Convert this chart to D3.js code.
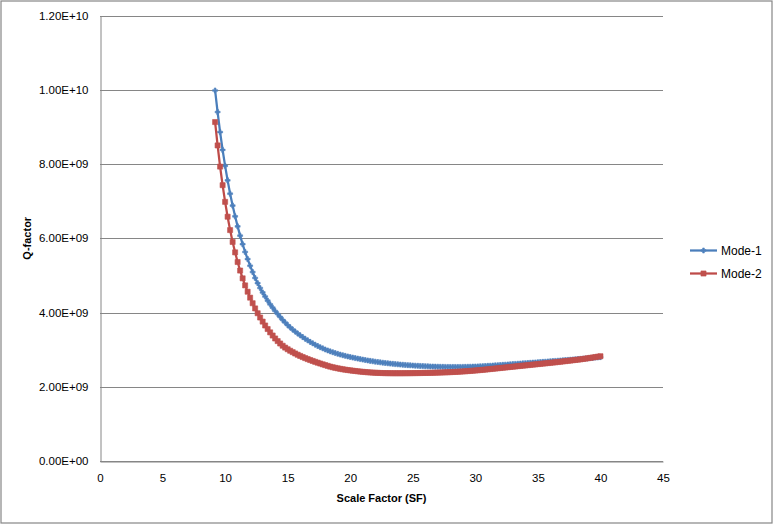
<!DOCTYPE html>
<html><head><meta charset="utf-8">
<script src="https://cdn.jsdelivr.net/npm/d3@7"></script>
<style>
body{margin:0;background:#fff}
svg{display:block}
text{font-family:"Liberation Sans",Arial,sans-serif;fill:#000}
</style>
</head><body>
<svg id="chart" width="777" height="524"></svg>
<script>
// Scale Factor (SF) values
const sf = [
 9.2,9.4,9.6,9.8,10.0,10.2,10.4,10.6,10.8,11.0,
 11.2,11.4,11.6,11.8,12.0,12.2,12.4,12.6,12.8,13.0,
 13.2,13.4,13.6,13.8,14.0,14.2,14.4,14.6,14.8,15.0,
 15.2,15.4,15.6,15.8,16.0,16.2,16.4,16.6,16.8,17.0,
 17.2,17.4,17.6,17.8,18.0,18.2,18.4,18.6,18.8,19.0,
 19.2,19.4,19.6,19.8,20.0,20.2,20.4,20.6,20.8,21.0,
 21.2,21.4,21.6,21.8,22.0,22.2,22.4,22.6,22.8,23.0,
 23.2,23.4,23.6,23.8,24.0,24.2,24.4,24.6,24.8,25.0,
 25.2,25.4,25.6,25.8,26.0,26.2,26.4,26.6,26.8,27.0,
 27.2,27.4,27.6,27.8,28.0,28.2,28.4,28.6,28.8,29.0,
 29.2,29.4,29.6,29.8,30.0,30.2,30.4,30.6,30.8,31.0,
 31.2,31.4,31.6,31.8,32.0,32.2,32.4,32.6,32.8,33.0,
 33.2,33.4,33.6,33.8,34.0,34.2,34.4,34.6,34.8,35.0,
 35.2,35.4,35.6,35.8,36.0,36.2,36.4,36.6,36.8,37.0,
 37.2,37.4,37.6,37.8,38.0,38.2,38.4,38.6,38.8,39.0,
 39.2,39.4,39.6,39.8,40.0
];
// Q-factor, in units of 1e9
const mode1 = [
 9.98,9.40,8.86,8.38,7.95,7.56,7.20,6.88,6.59,6.32,
 6.07,5.84,5.63,5.44,5.26,5.09,4.93,4.79,4.66,4.54,
 4.43,4.32,4.22,4.13,4.04,3.96,3.88,3.80,3.73,3.66,
 3.60,3.541,3.486,3.434,3.385,3.338,3.293,3.250,3.209,3.170,
 3.133,3.098,3.065,3.034,3.005,2.978,2.953,2.930,2.908,2.887,
 2.867,2.849,2.832,2.816,2.801,2.786,2.772,2.758,2.745,2.732,
 2.720,2.708,2.697,2.686,2.676,2.666,2.657,2.648,2.640,2.632,
 2.624,2.617,2.610,2.604,2.598,2.592,2.587,2.582,2.577,2.572,
 2.568,2.564,2.560,2.556,2.553,2.550,2.547,2.544,2.542,2.540,
 2.538,2.536,2.535,2.534,2.533,2.533,2.533,2.533,2.534,2.535,
 2.536,2.538,2.540,2.542,2.545,2.548,2.551,2.555,2.559,2.563,
 2.567,2.571,2.576,2.580,2.585,2.590,2.595,2.600,2.605,2.610,
 2.615,2.620,2.625,2.630,2.635,2.640,2.645,2.650,2.655,2.660,
 2.665,2.670,2.675,2.681,2.686,2.691,2.696,2.701,2.707,2.712,
 2.717,2.723,2.728,2.734,2.739,2.745,2.750,2.756,2.762,2.768,
 2.774,2.780,2.786,2.792,2.798
];
const mode2 = [
 9.13,8.50,7.93,7.43,6.98,6.58,6.22,5.90,5.62,5.36,
 5.13,4.92,4.73,4.56,4.40,4.25,4.11,3.98,3.865,3.755,
 3.65,3.555,3.465,3.38,3.30,3.23,3.165,3.105,3.055,3.01,
 2.97,2.932,2.896,2.862,2.830,2.800,2.772,2.745,2.720,2.695,
 2.671,2.648,2.626,2.604,2.583,2.562,2.542,2.525,2.510,2.496,
 2.483,2.471,2.460,2.450,2.441,2.432,2.424,2.416,2.409,2.402,
 2.396,2.390,2.385,2.381,2.377,2.374,2.371,2.369,2.367,2.366,
 2.365,2.364,2.364,2.364,2.364,2.364,2.365,2.365,2.366,2.367,
 2.368,2.369,2.370,2.371,2.372,2.373,2.375,2.377,2.379,2.381,
 2.383,2.385,2.388,2.391,2.394,2.397,2.400,2.404,2.408,2.412,
 2.417,2.422,2.427,2.432,2.438,2.444,2.450,2.456,2.463,2.470,
 2.477,2.484,2.491,2.498,2.505,2.512,2.519,2.526,2.533,2.540,
 2.547,2.554,2.561,2.568,2.575,2.582,2.589,2.596,2.603,2.610,
 2.617,2.624,2.631,2.638,2.645,2.652,2.659,2.666,2.674,2.682,
 2.690,2.698,2.706,2.714,2.722,2.730,2.738,2.748,2.758,2.768,
 2.778,2.789,2.800,2.811,2.822
];
const UNIT = 1e9;
const xTicks = [0,5,10,15,20,25,30,35,40,45];
const yTicks = [0,2e9,4e9,6e9,8e9,1e10,1.2e10];
const seriesNames = ["Mode-1","Mode-2"];
const seriesColors = ["#4A7EBB","#BE4B48"];
const xTitle = "Scale Factor (SF)";
const yTitle = "Q-factor";

const svg = d3.select("#chart");
const plot = {left:100, right:663, top:15.5, bottom:461};
const FONT = "'Liberation Sans', Arial, sans-serif";

// outer frame
svg.append("rect").attr("x",1).attr("y",1).attr("width",771).attr("height",522)
  .attr("fill","#fff").attr("stroke","#868686").attr("stroke-width",1.2);

const x = d3.scaleLinear().domain([0,45]).range([plot.left, plot.right]);
const y = d3.scaleLinear().domain([0,1.2e10]).range([plot.bottom, plot.top]);

function sci(v){
  if(v===0) return "0.00E+00";
  const e = Math.floor(Math.log10(v)+1e-9);
  const m = v/Math.pow(10,e);
  return m.toFixed(2)+"E"+(e<0?"-":"+")+String(Math.abs(e)).padStart(2,"0");
}

// horizontal gridlines
svg.append("g").selectAll("line").data(yTicks).join("line")
  .attr("x1",plot.left).attr("x2",plot.right)
  .attr("y1",d=>Math.round(y(d))+0.5).attr("y2",d=>Math.round(y(d))+0.5)
  .attr("stroke","#868686").attr("stroke-width",1);

// y axis
const yAxis = d3.axisLeft(y).tickValues(yTicks).tickFormat(sci).tickSize(0).tickPadding(12);
const gy = svg.append("g").attr("transform",`translate(${plot.left+0.5},0)`).call(yAxis);
gy.select(".domain").attr("stroke","#868686");
gy.selectAll("text").style("font-size","11.5px").attr("font-family",FONT);

// x axis
const xAxis = d3.axisBottom(x).tickValues(xTicks).tickFormat(d3.format("d")).tickSize(0).tickPadding(12);
const gx = svg.append("g").attr("transform",`translate(0,${Math.round(plot.bottom)+0.5})`).call(xAxis);
gx.select(".domain").attr("stroke","#868686");
gx.selectAll("text").style("font-size","11.5px").attr("font-family",FONT);

// titles
svg.append("text").attr("x",(plot.left+plot.right)/2).attr("y",502)
  .attr("text-anchor","middle").style("font-size","11px").style("font-weight","bold").text(xTitle);
svg.append("text").attr("transform",`translate(30.5,${(plot.top+plot.bottom)/2}) rotate(-90)`)
  .attr("text-anchor","middle").style("font-size","11px").style("font-weight","bold").text(yTitle);

const series = [mode1, mode2].map((vals,i)=>({
  name: seriesNames[i], color: seriesColors[i],
  pts: sf.map((s,j)=>({x:s, y:vals[j]*UNIT}))
}));

const line = d3.line().x(d=>x(d.x)).y(d=>y(d.y));
const symbols = [d3.symbol().type(d3.symbolCross).size(14), d3.symbol().type(d3.symbolSquare).size(26)];
const markerColors = ["#4F81BD","#C0504D"];

series.forEach((s,i)=>{
  const g = svg.append("g");
  g.append("path").datum(s.pts).attr("d",line)
    .attr("fill","none").attr("stroke",s.color).attr("stroke-width",2.25).attr("stroke-linejoin","round");
  g.selectAll("path.m").data(s.pts).join("path").attr("class","m")
    .attr("d",symbols[i]).attr("transform",d=>`translate(${x(d.x)},${y(d.y)})`)
    .attr("fill",markerColors[i]).attr("stroke",markerColors[i]).attr("stroke-width",0.6);
});

// legend
const lg = svg.append("g");
series.forEach((s,i)=>{
  const ly = 250.5 + i*23;
  lg.append("line").attr("x1",690).attr("x2",717).attr("y1",ly).attr("y2",ly)
    .attr("stroke",s.color).attr("stroke-width",2.25);
  lg.append("path").attr("d",symbols[i]).attr("transform",`translate(703.5,${ly})`)
    .attr("fill",markerColors[i]).attr("stroke",markerColors[i]).attr("stroke-width",0.6);
  lg.append("text").attr("x",721).attr("y",ly+4.2).style("font-size","12px").text(s.name);
});
</script>
</body></html>
